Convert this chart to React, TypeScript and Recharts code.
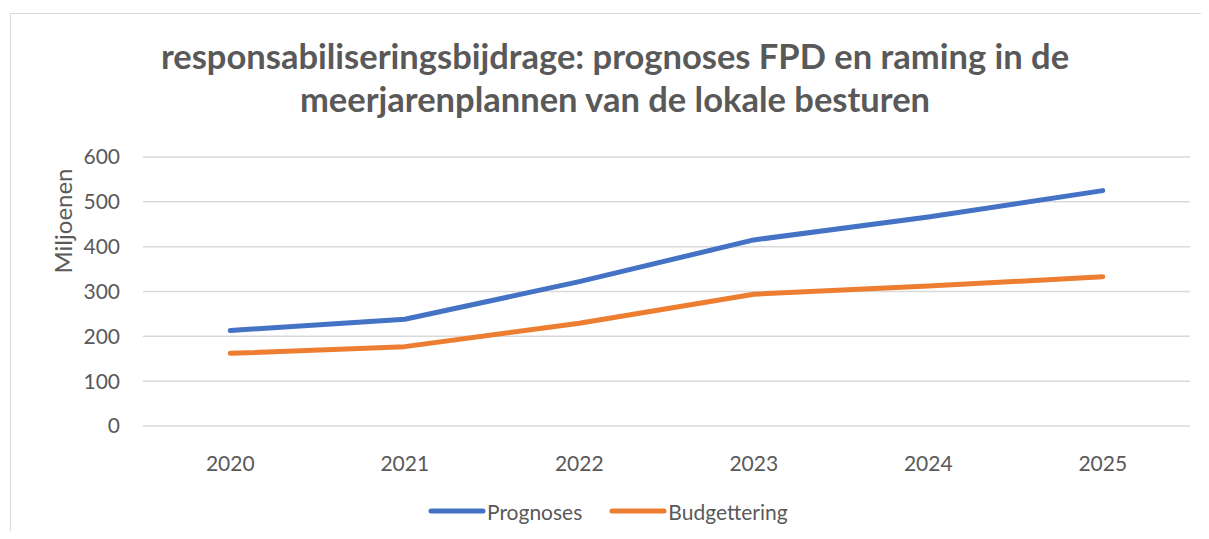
import { LineChart, Line, XAxis, YAxis, CartesianGrid, Legend } from 'recharts';

const years = ['2020', '2021', '2022', '2023', '2024', '2025'];
const prognoses = [213, 238, 322, 415, 466, 525];
const budgettering = [162, 177, 229, 294, 312, 333];
const yTicks = [0, 100, 200, 300, 400, 500, 600];

const BLUE = '#4472C4';
const ORANGE = '#ED7D31';
const TEXT = '#595959';
const FONT = 'Lato, "Open Sans", sans-serif';

const series = [
  { key: 'Prognoses', color: BLUE },
  { key: 'Budgettering', color: ORANGE },
];

const data = years.map((year, i) => ({
  year,
  Prognoses: prognoses[i],
  Budgettering: budgettering[i],
}));

const LegendContent = () => (
  <div style={{ display: 'flex', height: 24, alignItems: 'center', paddingLeft: 345 }}>
    {series.map((s) => (
      <div key={s.key} style={{ display: 'flex', alignItems: 'center', marginRight: 27 }}>
        <svg width={58} height={10}>
          <line x1={3} y1={5} x2={55} y2={5} stroke={s.color} strokeWidth={5} strokeLinecap="round" />
        </svg>
        <span style={{ fontFamily: FONT, fontSize: 21, color: TEXT, marginLeft: 1 }}>{s.key}</span>
      </div>
    ))}
  </div>
);

const AxisTitle = () => (
  <text
    x={62}
    y={221}
    transform="rotate(-90, 62, 221)"
    textAnchor="middle"
    dominantBaseline="central"
    fill={TEXT}
    fontFamily={FONT}
    fontSize={24}
  >
    Miljoenen
  </text>
);

export default function App() {
  return (
    <div style={{ position: 'relative', width: 1209, height: 539, margin: -8, background: '#fff', overflow: 'hidden' }}>
      {/* chart frame: only top and left edges are in view */}
      <div
        style={{
          position: 'absolute',
          left: 10,
          top: 13,
          right: 0,
          bottom: 0,
          borderTop: '1.5px solid #d9d9d9',
          borderLeft: '1.5px solid #d9d9d9',
        }}
      />
      <div
        style={{
          position: 'absolute',
          left: 0,
          width: 1230,
          top: 34,
          textAlign: 'center',
          fontFamily: FONT,
          fontWeight: 700,
          fontSize: 34.5,
          lineHeight: '43px',
          color: TEXT,
        }}
      >
        responsabiliseringsbijdrage: prognoses FPD en raming in de
        <br />
        meerjarenplannen van de lokale besturen
      </div>
      <div style={{ position: 'absolute', left: 0, top: 0 }}>
        <LineChart width={1209} height={539} data={data} margin={{ top: 157, right: 19, bottom: 16, left: 83 }}>
          <CartesianGrid vertical={false} stroke="#d9d9d9" strokeWidth={1.5} />
          <XAxis
            dataKey="year"
            scale="band"
            axisLine={false}
            tickLine={false}
            height={73}
            tickMargin={24}
            tick={{ fill: TEXT, fontSize: 21, fontFamily: FONT }}
          />
          <YAxis
            domain={[0, 600]}
            ticks={yTicks}
            width={60}
            axisLine={false}
            tickLine={false}
            tickMargin={17}
            tick={{ fill: TEXT, fontSize: 21, fontFamily: FONT }}
            label={<AxisTitle />}
          />
          <Legend verticalAlign="bottom" content={<LegendContent />} />
          {series.map((s) => (
            <Line
              key={s.key}
              type="linear"
              dataKey={s.key}
              stroke={s.color}
              strokeWidth={5}
              strokeLinecap="round"
              strokeLinejoin="round"
              dot={false}
              isAnimationActive={false}
            />
          ))}
        </LineChart>
      </div>
    </div>
  );
}
